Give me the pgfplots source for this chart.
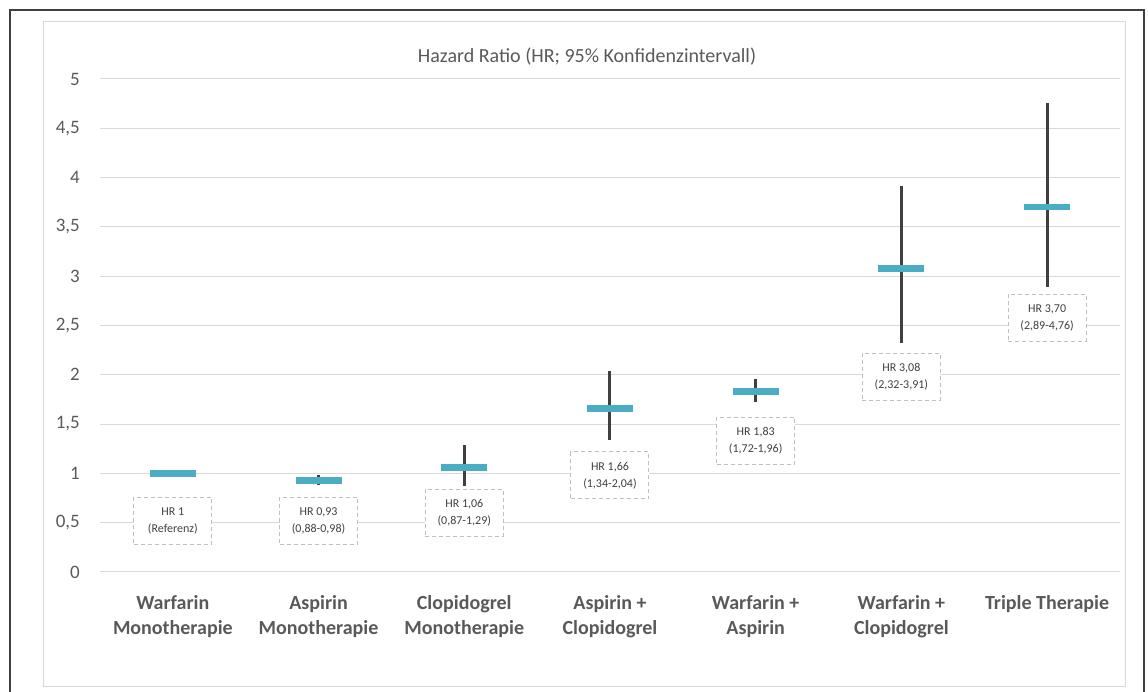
\documentclass[border=0pt]{standalone}
\usepackage{pgfplots}
\pgfplotsset{compat=1.18}
\usepackage{pgfplotstable}
\usepackage{fontspec}
\setmainfont{Carlito}
\definecolor{gridgray}{HTML}{D9D9D9}
\definecolor{txtgray}{HTML}{595959}
\definecolor{hrblue}{HTML}{4BACC6}
\definecolor{cigray}{HTML}{404040}
\definecolor{boxgray}{HTML}{BFBFBF}
\definecolor{framegray}{HTML}{404040}

\pgfplotstableread{
x y ep em
0 1.00 0.00 0.00
1 0.93 0.05 0.05
2 1.06 0.23 0.19
3 1.66 0.38 0.32
4 1.83 0.13 0.11
5 3.08 0.83 0.76
6 3.70 1.06 0.81
}\hrdata

\begin{document}
\begin{tikzpicture}[x=1pt,y=1pt]
\path[use as bounding box] (0,0) rectangle (1148,692);
\draw[framegray, line width=1.6pt] (10,-5) -- (10,682) -- (1144,682) -- (1144,-5);
\draw[gridgray, line width=1pt] (43,5) rectangle (1125,670);
\node[text=txtgray, font=\fontsize{20}{24}\selectfont] at (587,635) {Hazard Ratio (HR; 95\% Konfidenzintervall)};
\begin{axis}[
  at={(100pt,120pt)}, anchor=south west,
  scale only axis, width=1020pt, height=493pt,
  xmin=-0.5, xmax=6.5, ymin=0, ymax=5,
  clip=false,
  axis line style={draw=none},
  major tick length=0pt,
  ymajorgrids, grid style={gridgray, line width=1pt},
  ytick={0,0.5,...,5},
  /pgf/number format/use comma,
  /pgf/number format/assume math mode=true,
  yticklabel style={text=txtgray, font=\fontsize{19}{22}\selectfont, anchor=east, inner sep=0pt, xshift=-20pt},
  xtick={0,...,6},
  xticklabels={{Warfarin\\Monotherapie},{Aspirin\\Monotherapie},{Clopidogrel\\Monotherapie},{Aspirin +\\Clopidogrel},{Warfarin +\\Aspirin},{Warfarin +\\Clopidogrel},{Triple Therapie}},
  xticklabel style={text=txtgray, font=\bfseries\fontsize{20}{25}\selectfont, align=center, anchor=north, inner sep=0pt, yshift=-23pt},
]
\addplot[draw=none, mark=none, forget plot,
  error bars/.cd, y dir=both, y explicit, error mark=none,
  error bar style={line width=3pt, cigray}]
  table[x=x, y=y, y error plus=ep, y error minus=em] {\hrdata};
\addplot[only marks, mark=-, mark size=23pt, mark options={line width=6.5pt, draw=hrblue}]
  table[x=x, y=y] {\hrdata};

\tikzset{hrbox/.style={draw=boxgray, dash pattern=on 4pt off 3pt, line width=1pt, fill=white,
  minimum width=78pt, minimum height=47pt, align=center, text=black!75,
  font=\fontsize{12}{17}\selectfont}}
\node[hrbox] at (axis cs:0,0.52) {HR 1\\(Referenz)};
\node[hrbox] at (axis cs:1,0.52) {HR 0,93\\(0,88-0,98)};
\node[hrbox] at (axis cs:2,0.60) {HR 1,06\\(0,87-1,29)};
\node[hrbox] at (axis cs:3,0.98) {HR 1,66\\(1,34-2,04)};
\node[hrbox] at (axis cs:4,1.33) {HR 1,83\\(1,72-1,96)};
\node[hrbox] at (axis cs:5,1.98) {HR 3,08\\(2,32-3,91)};
\node[hrbox] at (axis cs:6,2.58) {HR 3,70\\(2,89-4,76)};
\end{axis}
\end{tikzpicture}
\end{document}
